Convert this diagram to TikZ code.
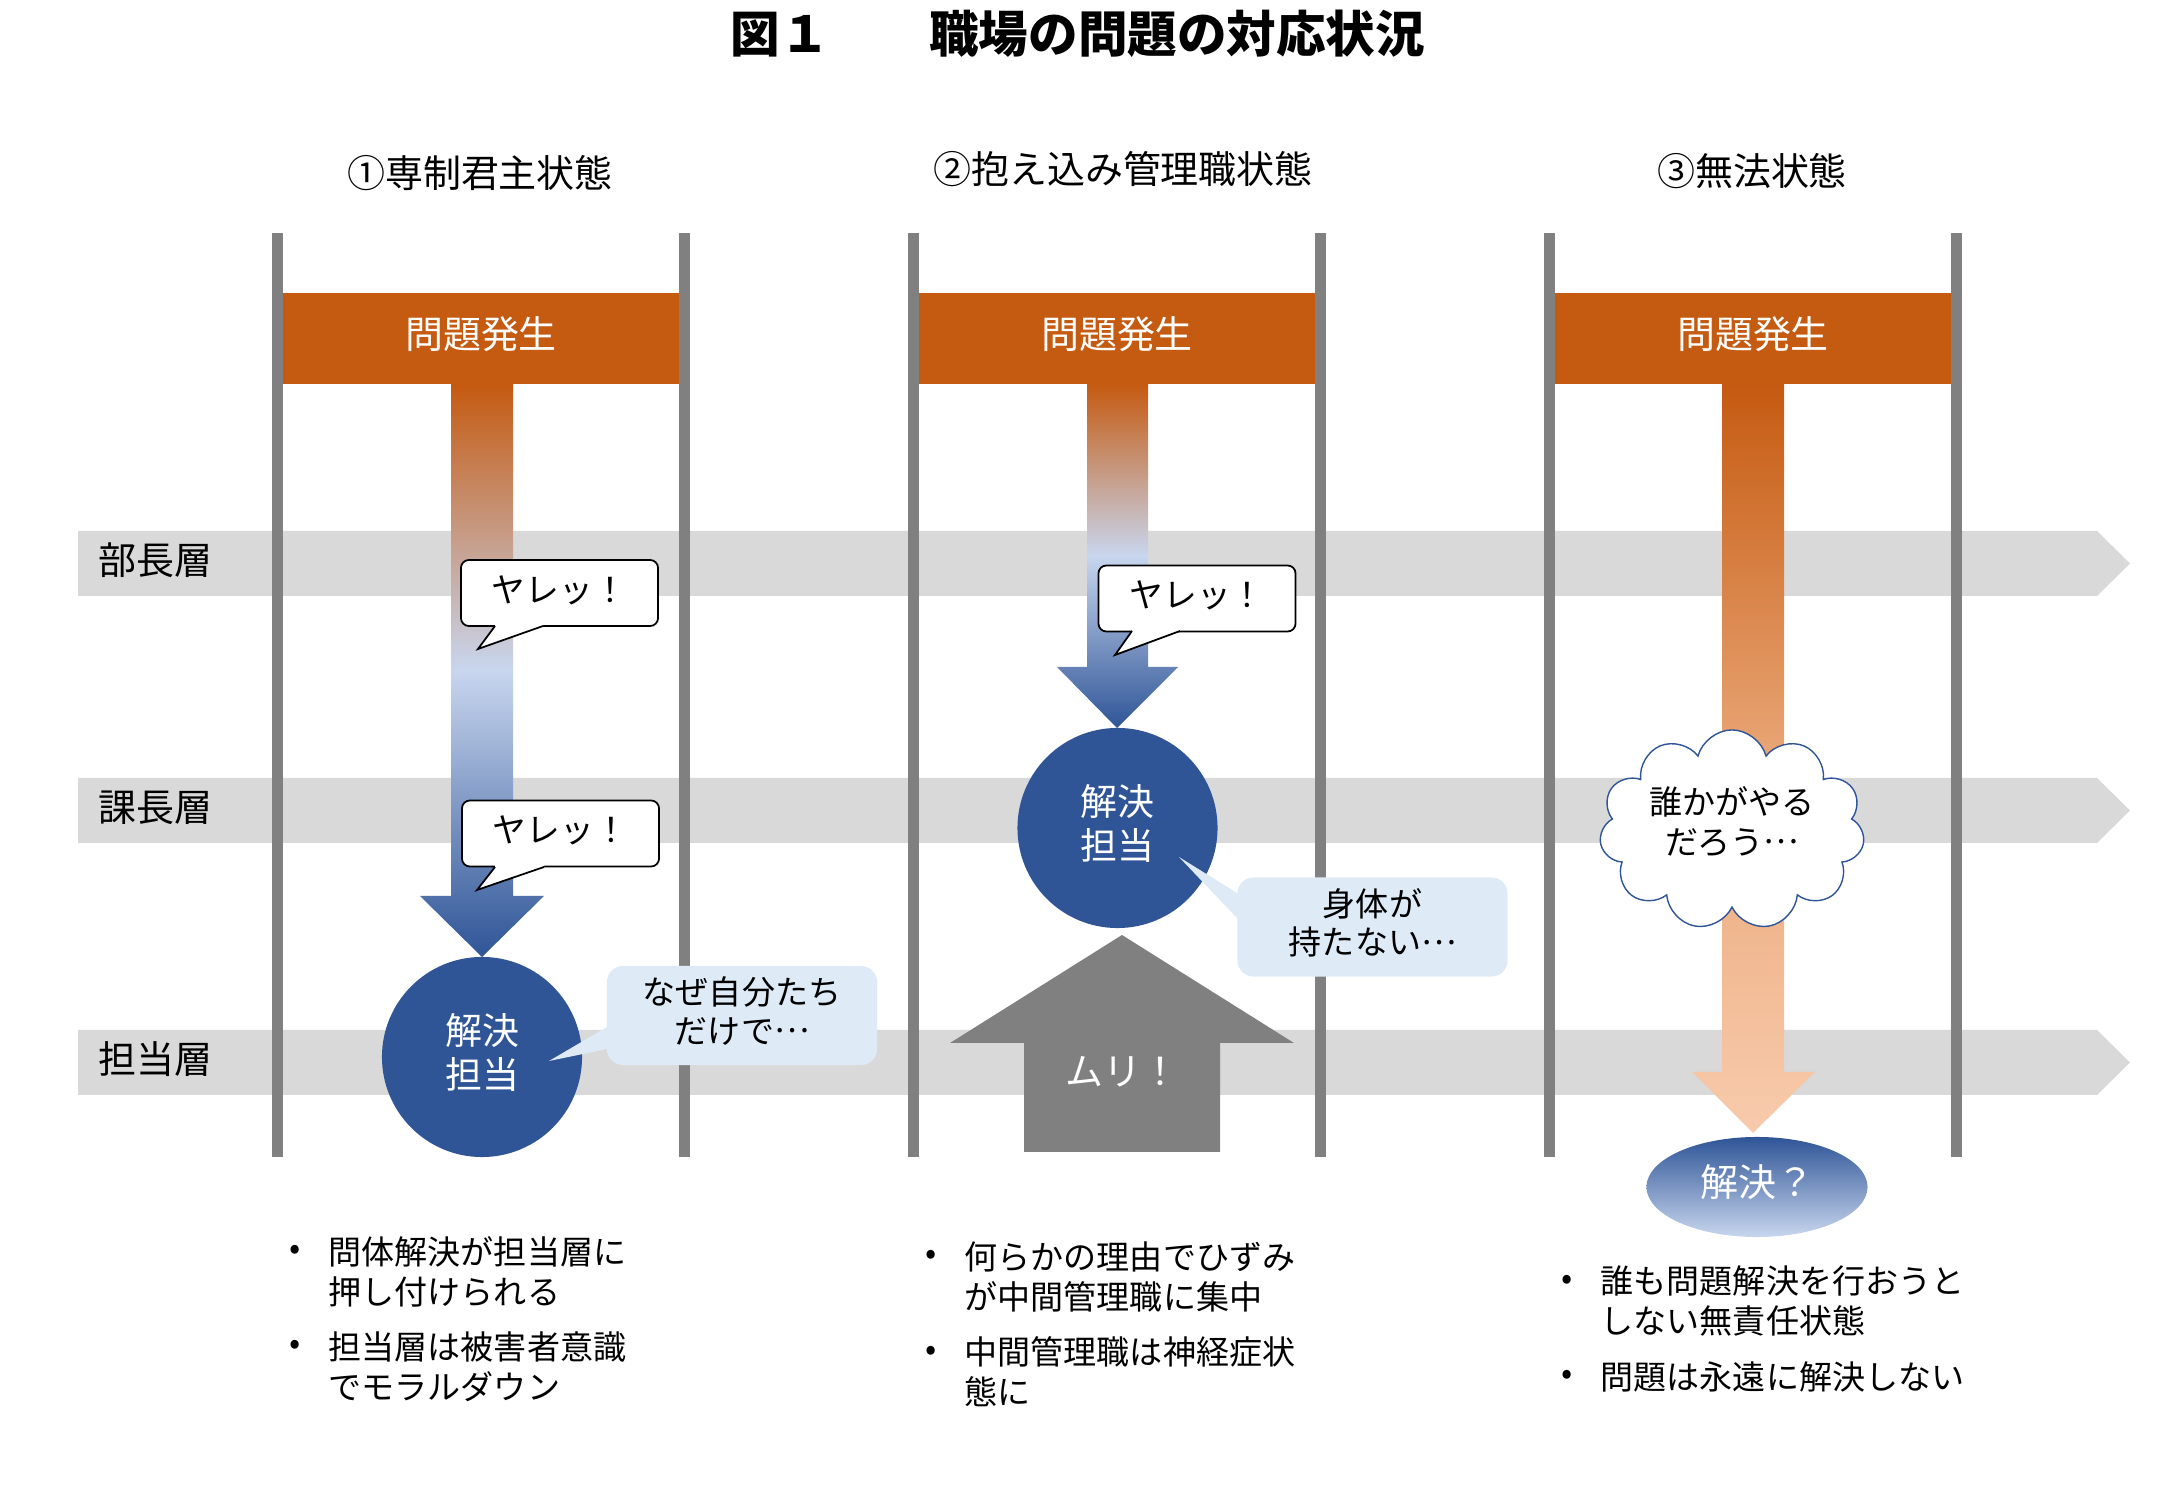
\documentclass[tikz,border=0pt]{standalone}
\usepackage{fontspec}
\setmainfont{Noto Sans CJK JP}
\usetikzlibrary{shapes.geometric,shapes.symbols}

\newcommand{\middots}{\raisebox{0.32em}{…}}

\tikzset{
  head/.style={fill=hdorange, text=white, minimum width=3.96cm, minimum height=0.91cm, inner sep=0pt,
    text depth=3.6pt},
  solver/.style={circle, fill=navy, text=white, minimum size=2cm, inner sep=0pt, align=center,
    text depth=3.5pt, font=\fontsize{10.5}{12.5}\selectfont},
  yare/.style={draw=black, line width=0.5pt, fill=white, rounded corners=0.08cm, minimum width=1.97cm,
    minimum height=0.66cm, inner sep=0pt, text depth=2.4pt, font=\fontsize{9.6}{12}\selectfont},
  tipbox/.style={fill=tipblue, rounded corners=0.16cm, minimum width=2.7cm, minimum height=0.99cm,
    inner sep=0pt, align=center, text depth=3.2pt, font=\fontsize{9.4}{11}\selectfont},
  item/.style={anchor=west, align=left, inner sep=0pt, font=\fontsize{9.4}{11.4}\selectfont},
  dot/.style={inner sep=0pt, font=\fontsize{9.4}{11.4}\selectfont},
}

\begin{document}
\begin{tikzpicture}[x=0.01cm, y=-0.01cm, font=\fontsize{10.8}{13}\selectfont]
  \definecolor{hdorange}{RGB}{197,90,17}
  \definecolor{bargray}{RGB}{128,128,128}
  \definecolor{bandgray}{RGB}{217,217,217}
  \definecolor{navy}{RGB}{47,85,151}
  \definecolor{paleblue}{RGB}{200,214,238}
  \definecolor{tipblue}{RGB}{222,235,247}
  \definecolor{peach}{RGB}{248,203,173}
  \definecolor{midorange}{RGB}{233,166,118}
  \useasboundingbox (0,0) rectangle (2160,1495);

  \node[font=\fontsize{14.1}{17}\selectfont\bfseries] (title) at (1078,34) {図１　　職場の問題の対応状況};

  % layers
  \foreach \y/\name [count=\i] in {531/部長層, 778/課長層, 1030/担当層} {
    \fill[bandgray] (78,\y) -- (2097,\y) -- (2130,\y+32.5) -- (2097,\y+65) -- (78,\y+65) -- cycle;
    \node[anchor=west, inner sep=0pt] (layer\i) at (98,\y+29.5) {\name};
  }

  % columns
  \foreach \c [count=\i] in {481,1117,1753} {
    \fill[bargray] (\c-209,233) rectangle (\c-198,1157);
    \fill[bargray] (\c+198,233) rectangle (\c+209,1157);
    \node[head] (occur\i) at (\c,338.5) {問題発生};
  }
  \node (state1) at (480,173) {①専制君主状態};
  \node (state2) at (1123,169) {②抱え込み管理職状態};
  \node (state3) at (1752,171) {③無法状態};

  % (1)
  \shade[top color=hdorange, bottom color=navy, middle color=paleblue]
    (451,384) -- (513,384) -- (513,896) -- (544,896) -- (482,957) -- (420,896) -- (451,896) -- cycle;
  \node[solver] (solve1) at (482,1057) {解決\\担当};
  \node[yare] (yare1) at (559.5,593) {ヤレッ！};
  \fill[white] (495,622) -- (495,626) -- (478,649) -- (543,626) -- (543,622) -- cycle;
  \draw[line width=0.5pt] (495,626) -- (478,649) -- (543,626);
  \node[yare] (yare2) at (560.5,833.5) {ヤレッ！};
  \fill[white] (495,863) -- (495,867) -- (477,890) -- (544,867) -- (544,863) -- cycle;
  \draw[line width=0.5pt] (495,867) -- (477,890) -- (544,867);
  \node[tipbox] (why) at (742,1015.5) {なぜ自分たち\\だけで\middots};
  \fill[tipblue] (549,1061) -- (607,1027) -- (620,1027) -- (620,1049) -- (607,1049) -- cycle;

  % (2)
  \shade[top color=hdorange, bottom color=navy, middle color=paleblue]
    (1087,384) -- (1148,384) -- (1148,667) -- (1178,667) -- (1117,728) -- (1057,667) -- (1087,667) -- cycle;
  \node[solver] (solve2) at (1117.5,828) {解決\\担当};
  \node[yare] (yare3) at (1197,598.5) {ヤレッ！};
  \fill[white] (1132,627) -- (1132,631) -- (1115,655) -- (1180,631) -- (1180,627) -- cycle;
  \draw[line width=0.5pt] (1132,631) -- (1115,655) -- (1180,631);
  \node[tipbox] (tired) at (1372.5,927) {身体が\\持たない\middots};
  \fill[tipblue] (1179,857) -- (1237,893) -- (1250,893) -- (1250,918) -- (1237,918) -- cycle;
  \fill[bargray] (1122,935) -- (1294,1043) -- (1220,1043) -- (1220,1152) -- (1024,1152) -- (1024,1043) -- (950,1043) -- cycle;
  \node[text=white] (muri) at (1122,1072) {ムリ！};

  % (3)
  \shade[top color=hdorange, bottom color=peach, middle color=midorange]
    (1722,384) -- (1784,384) -- (1784,1072) -- (1815,1072) -- (1753,1133) -- (1692,1072) -- (1722,1072) -- cycle;
  \node[cloud, cloud puffs=11, cloud ignores aspect, draw=navy, line width=0.4pt, fill=white, inner sep=0pt,
    minimum width=2.65cm, minimum height=2cm, align=center, text depth=5.6pt,
    font=\fontsize{9.4}{11.4}\selectfont] (think) at (1732,830) {誰かがやる\\だろう\middots};
  \node[ellipse, top color=navy, bottom color=paleblue, minimum width=2.21cm, minimum height=1cm,
    inner sep=0pt, text depth=3.4pt, text=white] (maybe) at (1757,1187) {解決？};

  % notes
  \node[dot] (d11) at (295,1252) {•};
  \node[item] (n11) at (328,1272) {問体解決が担当層に\\押し付けられる};
  \node[dot] (d12) at (295,1347) {•};
  \node[item] (n12) at (328,1367) {担当層は被害者意識\\でモラルダウン};
  \node[dot] (d21) at (931,1257) {•};
  \node[item] (n21) at (964,1277) {何らかの理由でひずみ\\が中間管理職に集中};
  \node[dot] (d22) at (931,1353) {•};
  \node[item] (n22) at (964,1372) {中間管理職は神経症状\\態に};
  \node[dot] (d31) at (1567,1282) {•};
  \node[item] (n31) at (1600,1301) {誰も問題解決を行おうと\\しない無責任状態};
  \node[dot] (d32) at (1567,1377) {•};
  \node[item] (n32) at (1600,1377) {問題は永遠に解決しない};
\end{tikzpicture}
\end{document}
